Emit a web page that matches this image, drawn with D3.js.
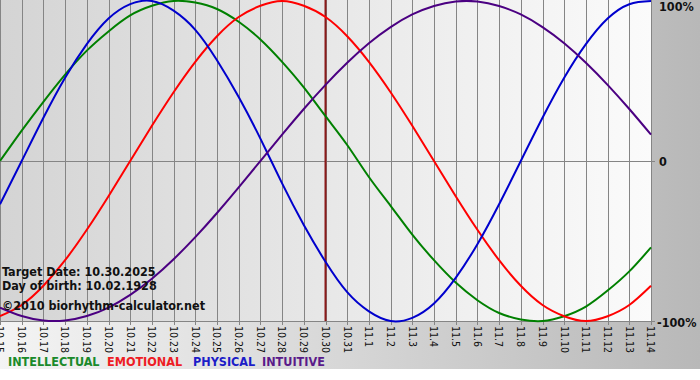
<!DOCTYPE html>
<html><head><meta charset="utf-8">
<script src="https://cdn.jsdelivr.net/npm/d3@7/dist/d3.min.js"></script>
<style>html,body{margin:0;padding:0;background:#fff;}svg{display:block}</style>
</head><body><svg id="chart" width="700" height="380"></svg>
<script>
const days = ["10.15","10.16","10.17","10.18","10.19","10.20","10.21","10.22","10.23","10.24","10.25","10.26","10.27","10.28","10.29","10.30","10.31",
  "11.1","11.2","11.3","11.4","11.5","11.6","11.7","11.8","11.9","11.10","11.11","11.12","11.13","11.14"];
const intellectual = [0,0.19,0.37,0.54,0.69,0.81,0.91,0.97,1.00,0.99,0.95,0.87,0.76,0.62,0.46,0.28,0.10,-0.10,-0.28,-0.46,-0.62,-0.76,-0.87,-0.95,-0.99,-1.00,-0.97,-0.91,-0.81,-0.69,-0.54];
const emotional = [-0.97,-0.90,-0.78,-0.62,-0.43,-0.22,0,0.22,0.43,0.62,0.78,0.90,0.97,1.00,0.97,0.90,0.78,0.62,0.43,0.22,0,-0.22,-0.43,-0.62,-0.78,-0.90,-0.97,-1.00,-0.97,-0.90,-0.78];
const physical = [-0.27,0,0.27,0.52,0.73,0.89,0.98,1.00,0.94,0.82,0.63,0.40,0.14,-0.14,-0.40,-0.63,-0.82,-0.94,-1.00,-0.98,-0.89,-0.73,-0.52,-0.27,0,0.27,0.52,0.73,0.89,0.98,1.00];
const intuitive = [-0.916,-0.969,-0.997,-0.997,-0.969,-0.916,-0.837,-0.736,-0.614,-0.476,-0.325,-0.165,0,0.165,0.325,0.476,0.614,0.736,0.837,0.916,0.969,0.997,0.997,0.969,0.916,0.837,0.736,0.614,0.476,0.325,0.165];
const seriesNames = ["INTELLECTUAL","EMOTIONAL","PHYSICAL","INTUITIVE"];
const seriesColors = ["#008000","#ff0000","#0000cd","#4b0082"];
const legendColors = ["#1a8a2a","#ee1c24","#1c1cc8","#5a1a8a"];
const yTicks = [1,0,-1];
const yTickLabels = ["100%","0","-100%"];
const targetDay = "10.30";
const infoLines = ["Target Date: 10.30.2025","Day of birth: 10.02.1928","©2010 biorhythm-calculator.net"];

const svg = d3.select("#chart");
const defs = svg.append("defs");
const bg = defs.append("linearGradient").attr("id","bg").attr("x1","0").attr("x2","1").attr("y1","0").attr("y2","0");
bg.append("stop").attr("offset","0").attr("stop-color","#f4f4f4");
bg.append("stop").attr("offset","1").attr("stop-color","#b8b8b8");
const pg = defs.append("linearGradient").attr("id","pg").attr("x1","0").attr("x2","1").attr("y1","0").attr("y2","0");
pg.append("stop").attr("offset","0").attr("stop-color","#d4d4d4");
pg.append("stop").attr("offset","1").attr("stop-color","#fbfbfb");

svg.append("rect").attr("x",0).attr("y",0).attr("width",700).attr("height",369).attr("fill","url(#bg)");

const x = d3.scalePoint().domain(days).range([0,651]);
const y = d3.scaleLinear().domain([-1,1]).range([321,1]);

svg.append("rect").attr("x",0).attr("y",0).attr("width",651).attr("height",321).attr("fill","url(#pg)");

const px = d => Math.round(x(d)) + 0.5;
svg.append("g").selectAll("line").data(days).join("line")
  .attr("x1",px).attr("x2",px).attr("y1",0).attr("y2",325)
  .attr("stroke","#858585").attr("stroke-width",1);
svg.append("line").attr("x1",0).attr("x2",655).attr("y1",Math.round(y(0))+0.5).attr("y2",Math.round(y(0))+0.5).attr("stroke","#858585");
svg.append("line").attr("x1",0).attr("x2",655).attr("y1",Math.round(y(-1))+0.5).attr("y2",Math.round(y(-1))+0.5).attr("stroke","#858585");

svg.append("line").attr("x1",x(targetDay)).attr("x2",x(targetDay)).attr("y1",0).attr("y2",321)
  .attr("stroke","#8b1a1a").attr("stroke-width",2);

const allSeries = [intellectual, emotional, physical, intuitive];
const line = d3.line().x((d,i)=>x(days[i])).y(d=>y(d)).curve(d3.curveNatural);
svg.append("g").selectAll("path").data(allSeries).join("path")
  .attr("d",line).attr("fill","none")
  .attr("stroke",(d,i)=>seriesColors[i]).attr("stroke-width",2);

svg.append("g").selectAll("text").data(days).join("text")
  .attr("transform",d=>`translate(${x(d)},326) rotate(90)`)
  .attr("dy","0.35em").attr("text-anchor","start")
  .attr("font-family","DejaVu Sans Condensed, DejaVu Sans").attr("font-size",10.5).attr("fill","#111")
  .text(d=>d);

const yLabelPos = [7, 162, 323];
svg.append("g").selectAll("text").data(yTicks).join("text")
  .attr("x",(d,i)=> i===2 ? 657 : 659).attr("y",(d,i)=>yLabelPos[i]).attr("dy","0.35em")
  .attr("font-family","DejaVu Sans Condensed, DejaVu Sans").attr("font-weight","bold").attr("font-size",12.5).attr("fill","#111")
  .text((d,i)=>yTickLabels[i]);

const infoY = [276, 290, 310];
svg.append("g").selectAll("text").data(infoLines).join("text")
  .attr("x",2).attr("y",(d,i)=>infoY[i])
  .attr("font-family","DejaVu Sans Condensed, DejaVu Sans").attr("font-weight","bold").attr("font-size",12.5).attr("fill","#111")
  .text(d=>d);

const legendX = [8, 107, 193, 262];
svg.append("g").selectAll("text").data(seriesNames).join("text")
  .attr("x",(d,i)=>legendX[i]).attr("y",366)
  .attr("font-family","DejaVu Sans Condensed, DejaVu Sans").attr("font-weight","bold").attr("font-size",12.5)
  .attr("fill",(d,i)=>legendColors[i])
  .text(d=>d);
</script>
</body></html>
